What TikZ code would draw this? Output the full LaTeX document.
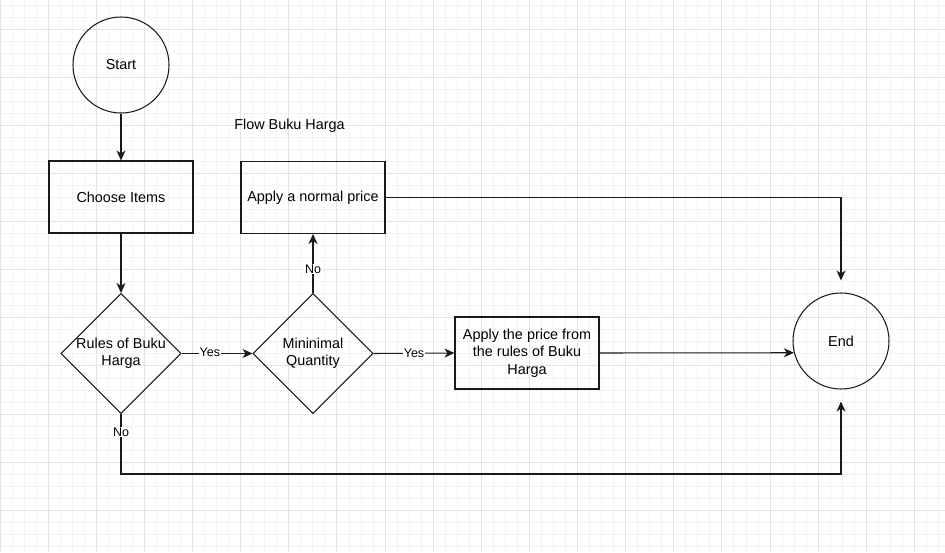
\documentclass[tikz,border=0pt]{standalone}
\usepackage{fontspec}
\setmainfont{Liberation Sans}
\usetikzlibrary{shapes.geometric,arrows.meta}
\definecolor{gridmajor}{HTML}{E4E4E4}
\definecolor{gridminor}{HTML}{F3F3F3}
\definecolor{ink}{HTML}{1A1A1A}
\begin{document}
\begin{tikzpicture}[x=1pt,y=-1pt,
  base/.style={line width=1.05pt, draw=ink},
  circ/.style={circle, draw, base, minimum size=96pt, inner sep=0pt, font=\fontsize{14.4}{17}\selectfont},
  stepbox/.style={rectangle, draw, base, minimum width=144pt, minimum height=72pt, inner sep=0pt, align=center, font=\fontsize{14.4}{17.4}\selectfont},
  decision/.style={diamond, draw, base, minimum width=120pt, minimum height=120pt, inner sep=0pt, aspect=1, align=center, font=\fontsize{14.4}{17.5}\selectfont},
  arr/.style={base, -{Stealth[length=10pt,width=9pt,inset=3pt]}},
  lbl/.style={fill=white, inner sep=0.6pt, font=\fontsize{12.5}{14}\selectfont},
  title/.style={font=\fontsize{14.4}{17}\selectfont, inner sep=0pt}
]
\useasboundingbox (0,0) rectangle (945,552);
\fill[white] (0,0) rectangle (945,552);
% minor grid
\foreach \i in {0,...,79} {
  \draw[gridminor, line width=0.7pt] (\i*12.03,0) -- (\i*12.03,552);
}
\foreach \j in {-3,...,44} {
  \draw[gridminor, line width=0.7pt] (0,29+\j*12.03) -- (945,29+\j*12.03);
}
% major grid
\foreach \i in {0,...,19} {
  \draw[gridmajor, line width=0.8pt] (\i*48.12,0) -- (\i*48.12,552);
}
\foreach \j in {0,...,11} {
  \draw[gridmajor, line width=0.8pt] (0,29+\j*48.12) -- (945,29+\j*48.12);
}

% nodes
\node[circ] (start) at (121,65) {Start};
\node[stepbox] (choose) at (121,197) {Choose Items};
\node[decision] (rules) at (121,353.5) {\makebox[0pt]{Rules of Buku}\\\makebox[0pt]{Harga}};
\node[decision] (mini) at (313,353.5) {\makebox[0pt]{Mininimal}\\\makebox[0pt]{Quantity}};
\node[stepbox] (normal) at (313,197.5) {Apply a normal price};
\node[stepbox] (price) at (527,353) {Apply the price from\\the rules of Buku\\Harga};
\node[circ] (end) at (841,341) {End};
\node[title] (ttl) at (289.5,126) {Flow Buku Harga};
\coordinate (c1) at (121,474);

% connectors
\draw[arr] (start) -- (choose);
\draw[arr] (choose) -- (rules);
\draw[arr] (rules.east) -- node[lbl, pos=0.4, yshift=1.5pt] {Yes} (mini.west);
\draw[arr] (mini.north) -- node[lbl, pos=0.4] {No} (normal.south);
\draw[arr] (mini.east) -- node[lbl] {Yes} (price.west);
\draw[arr] (price.east) -- (end.194.5);
\draw[arr, shorten >=12pt] (normal.east) -| (end.north);
\draw[arr, shorten >=12pt] (rules.south) -- node[lbl, pos=0.3] {No} (c1) -| (end.south);
\end{tikzpicture}
\end{document}
